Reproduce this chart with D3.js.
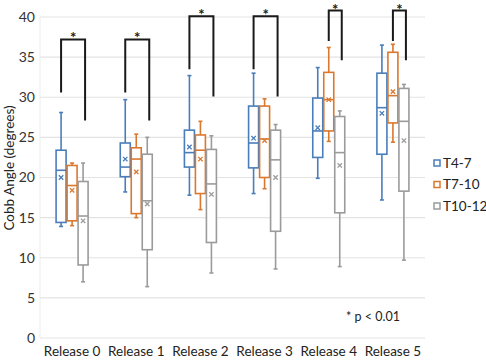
<!DOCTYPE html>
<html>
<head>
<meta charset="utf-8">
<script src="https://cdn.jsdelivr.net/npm/d3@7"></script>
<style>
  html, body { margin: 0; padding: 0; background: #fff; }
  text { font-family: Lato, "Liberation Sans", sans-serif; }
</style>
</head>
<body>
<svg id="chart" width="486" height="360"></svg>
<script>
// ---------- data ----------
const categories = ["Release 0", "Release 1", "Release 2", "Release 3", "Release 4", "Release 5"];
const seriesNames = ["T4-7", "T7-10", "T10-12"];
const yTicks = [0, 5, 10, 15, 20, 25, 30, 35, 40];

// each row: [min, q1, median, q3, max, mean]
const t4_7 = [
  [13.9, 14.4, 20.9, 23.4, 28.1, 20.0],
  [18.2, 20.1, 21.3, 24.3, 29.7, 22.3],
  [17.8, 21.3, 23.1, 25.9, 32.7, 23.8],
  [18.0, 21.2, 24.3, 28.9, 33.0, 24.9],
  [19.9, 22.5, 25.8, 29.9, 33.7, 26.2],
  [17.2, 22.9, 28.7, 33.0, 36.5, 28.0]
];
const t7_10 = [
  [14.0, 14.6, 19.0, 21.5, 21.8, 18.4],
  [15.0, 15.5, 22.3, 23.7, 25.4, 20.7],
  [16.0, 18.0, 23.4, 25.3, 27.0, 22.3],
  [18.6, 20.0, 24.8, 28.9, 29.8, 24.6],
  [24.5, 25.8, 29.7, 33.1, 36.2, 29.7],
  [24.4, 26.8, 30.2, 35.6, 36.6, 30.7]
];
const t10_12 = [
  [7.0, 9.1, 15.2, 19.5, 21.8, 14.6],
  [6.4, 11.0, 17.1, 22.9, 25.0, 16.7],
  [8.1, 11.9, 19.2, 23.5, 25.2, 17.9],
  [8.6, 13.3, 22.2, 25.9, 26.6, 20.0],
  [8.9, 15.6, 23.1, 27.6, 28.3, 21.5],
  [9.7, 18.3, 27.0, 31.1, 31.6, 24.6]
];

// significance brackets (values in degrees, series index pairs)
const bracketFrom = [0, 0, 0, 0, 1, 1];
const bracketTo = [2, 2, 2, 2, 2, 2];
const bracketTop = [37.2, 37.2, 40.1, 40.1, 40.8, 40.8];
const bracketLeftEnd = [30.6, 30.6, 33.5, 33.5, 37.0, 37.0];
const bracketRightEnd = [27.1, 27.1, 30.1, 30.1, 34.6, 34.6];
const noteText = "* p < 0.01";

// ---------- drawing ----------
const seriesData = [t4_7, t7_10, t10_12];
const colors = ["#4a7ebb", "#d9782f", "#9b9b9b"];

const svg = d3.select("#chart");
const plotLeft = 40, plotRight = 425, plotTop = 17, plotBottom = 338;

const x = d3.scaleBand().domain(categories).range([plotLeft, plotRight]).padding(0);
const xs = d3.scaleBand().domain(d3.range(seriesNames.length)).range([-16.5, 16.5]).padding(0);
const y = d3.scaleLinear().domain([0, 40]).range([plotBottom, plotTop]);
const boxW = xs.bandwidth() - 1;
const capW = 4;

// gridlines
svg.append("g").selectAll("line").data(yTicks).join("line")
  .attr("x1", plotLeft).attr("x2", plotRight)
  .attr("y1", d => y(d)).attr("y2", d => y(d))
  .attr("stroke", "#e3e3e3").attr("stroke-width", 1.2);

svg.append("line")
  .attr("x1", plotLeft).attr("x2", plotLeft)
  .attr("y1", plotTop).attr("y2", plotBottom)
  .attr("stroke", "#ececec").attr("stroke-width", 1);

// y axis labels
const yAxis = d3.axisLeft(y).tickValues(yTicks).tickSize(0).tickPadding(5);
const yg = svg.append("g").attr("transform", `translate(${plotLeft},0)`).call(yAxis);
yg.select(".domain").remove();
yg.selectAll("text").attr("font-size", 14).attr("fill", "#333")
  .attr("font-family", "Lato, 'Liberation Sans', sans-serif");

// x axis labels
const xAxis = d3.axisBottom(x).tickSize(0).tickPadding(8);
const xg = svg.append("g").attr("transform", `translate(0,${plotBottom})`).call(xAxis);
xg.select(".domain").remove();
xg.selectAll("text").attr("font-size", 13.5).attr("fill", "#222")
  .attr("font-family", "Lato, 'Liberation Sans', sans-serif");

// y title
svg.append("text")
  .attr("transform", "translate(14,168) rotate(-90)")
  .attr("text-anchor", "middle")
  .attr("font-size", 13.5).attr("fill", "#222")
  .text("Cobb Angle (degrees)");

// boxes
seriesData.forEach((rows, si) => {
  const g = svg.append("g");
  const col = colors[si];
  rows.forEach((r, ci) => {
    const cx = x(categories[ci]) + x.bandwidth() / 2 + xs(si) + xs.bandwidth() / 2;
    const [mn, q1, md, q3, mx, mean] = r;
    // whiskers
    g.append("line").attr("x1", cx).attr("x2", cx).attr("y1", y(mx)).attr("y2", y(q3))
      .attr("stroke", col).attr("stroke-width", 1.6);
    g.append("line").attr("x1", cx).attr("x2", cx).attr("y1", y(q1)).attr("y2", y(mn))
      .attr("stroke", col).attr("stroke-width", 1.6);
    g.append("line").attr("x1", cx - capW / 2).attr("x2", cx + capW / 2).attr("y1", y(mx)).attr("y2", y(mx))
      .attr("stroke", col).attr("stroke-width", 1.6);
    g.append("line").attr("x1", cx - capW / 2).attr("x2", cx + capW / 2).attr("y1", y(mn)).attr("y2", y(mn))
      .attr("stroke", col).attr("stroke-width", 1.6);
    // box
    g.append("rect").attr("x", cx - boxW / 2).attr("width", boxW)
      .attr("y", y(q3)).attr("height", y(q1) - y(q3))
      .attr("fill", "#fff").attr("stroke", col).attr("stroke-width", 1.6);
    // median
    g.append("line").attr("x1", cx - boxW / 2).attr("x2", cx + boxW / 2).attr("y1", y(md)).attr("y2", y(md))
      .attr("stroke", col).attr("stroke-width", 1.6);
    // mean marker
    const m = 2.2, my = y(mean);
    g.append("path").attr("d", `M${cx - m},${my - m}L${cx + m},${my + m}M${cx - m},${my + m}L${cx + m},${my - m}`)
      .attr("stroke", col).attr("stroke-width", 1.3).attr("fill", "none");
  });
});

// brackets
const bg = svg.append("g");
categories.forEach((c, ci) => {
  const base = x(c) + x.bandwidth() / 2;
  const xl = base + xs(bracketFrom[ci]) + xs.bandwidth() / 2;
  const xr = base + xs(bracketTo[ci]) + xs.bandwidth() / 2 + 2;
  bg.append("path")
    .attr("d", `M${xl},${y(bracketLeftEnd[ci])}V${y(bracketTop[ci])}H${xr}V${y(bracketRightEnd[ci])}`)
    .attr("fill", "none").attr("stroke", "#1a1a1a").attr("stroke-width", 2);
  bg.append("text")
    .attr("x", (xl + xr) / 2).attr("y", y(bracketTop[ci]) + 4)
    .attr("text-anchor", "middle").attr("font-size", 15).attr("font-weight", "bold")
    .attr("fill", "#1a1a1a").text("*");
});

// legend
const lg = svg.append("g");
seriesNames.forEach((s, i) => {
  const ly = 163 + i * 21.5;
  lg.append("rect").attr("x", 434).attr("y", ly - 3).attr("width", 6).attr("height", 6)
    .attr("fill", "#fff").attr("stroke", colors[i]).attr("stroke-width", 1.5);
  lg.append("text").attr("x", 443).attr("y", ly).attr("dy", "0.35em")
    .attr("font-size", 13.5).attr("fill", "#222").text(s);
});

// note
svg.append("text").attr("x", 373).attr("y", 317).attr("dy", "0.35em")
  .attr("text-anchor", "middle").attr("font-size", 12.5).attr("fill", "#222").text(noteText);
</script>
</body>
</html>
